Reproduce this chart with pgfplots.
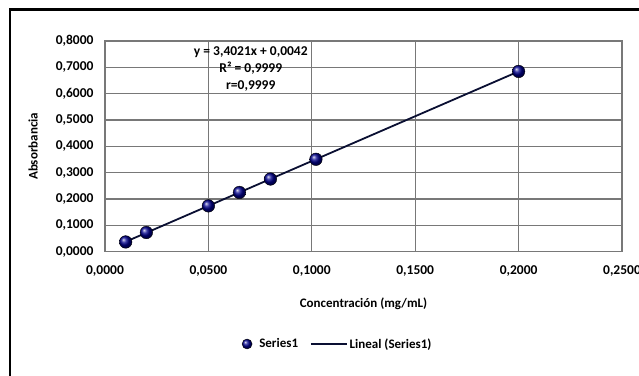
\documentclass[border=0pt]{standalone}
\usepackage{pgfplots}
\usepackage{pgfplotstable}
\pgfplotsset{compat=1.18}
\usepackage{fontspec}
\setmainfont{Carlito}
\pgfplotstableread{
x y
0.0100 0.0370
0.0200 0.0730
0.0500 0.1740
0.0650 0.2250
0.0800 0.2760
0.1020 0.3510
0.2000 0.6845
}\datatab
\definecolor{gridgray}{RGB}{120,120,120}
\definecolor{navyline}{RGB}{10,15,50}
\begin{document}
\begin{tikzpicture}
\useasboundingbox (0,0) rectangle (639pt,-375pt);
\draw[line width=2.6pt,black] (10pt,-9.5pt) rectangle (660pt,-400pt);
\begin{axis}[
  at={(105pt,-251.7pt)}, anchor=south west,
  scale only axis, width=517pt, height=210.7pt,
  xmin=0, xmax=0.25, ymin=0, ymax=0.8,
  xtick={0,0.05,0.1,0.15,0.2,0.25},
  ytick={0,0.1,0.2,0.3,0.4,0.5,0.6,0.7,0.8},
  grid=major,
  grid style={gridgray, line width=1.1pt},
  axis line style={gridgray, line width=1.1pt},
  tick style={draw=none},
  /pgf/number format/assume math mode=true,
  /pgf/number format/.cd, fixed, fixed zerofill, precision=4, use comma,
  /pgfplots/.cd,
  ticklabel style={font=\fontsize{13.5}{15}\selectfont\bfseries},
  yticklabel style={xshift=-8pt},
  xticklabel style={yshift=-10pt},
  xlabel={Concentración (mg/mL)},
  ylabel={Absorbancia},
  label style={font=\fontsize{13}{15}\selectfont\bfseries},
  xlabel style={at={(axis description cs:0.5,-0.248)}, anchor=center},
  ylabel style={at={(axis description cs:-0.139,0.5)}, anchor=center},
  legend style={at={(axis description cs:0.45,-0.438)}, anchor=center,
    draw=none, legend columns=2, font=\fontsize{13}{15}\selectfont\bfseries,
    /tikz/every even column/.append style={column sep=10pt}},
]
\addplot[navyline, line width=1.8pt, forget plot]
  table[x=x, y={create col/linear regression={y=y}}] {\datatab};
\addplot[only marks, mark=ball, mark size=6.3pt, mark options={ball color=blue!55!black}, forget plot]
  table[x=x, y=y] {\datatab};
\addlegendimage{only marks, mark=ball, mark size=5pt, mark options={ball color=blue!55!black}}
\addlegendimage{navyline, line width=1.6pt, legend image code/.code={\draw[navyline, line width=1.6pt] (0pt,0pt) -- (36pt,0pt);}}
\legend{\hspace{5pt}Series1, Lineal (Series1)}
\node[align=center, font=\fontsize{13.5}{17}\selectfont\bfseries, inner sep=1pt] at (axis cs:0.0705,0.692)
  {y = 3,4021x + 0,0042\\R² = 0,9999\\r=0,9999};
\end{axis}
\end{tikzpicture}
\end{document}
